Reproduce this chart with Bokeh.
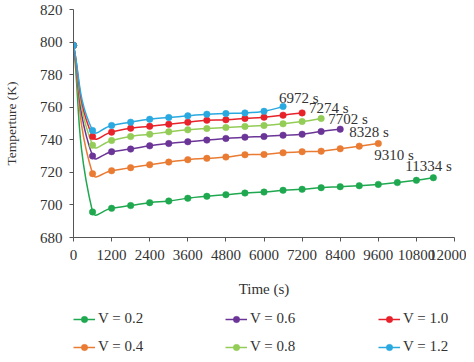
import math
from bokeh.plotting import figure
from bokeh.layouts import column
from bokeh.models import Range1d, FixedTicker, Legend, LegendItem, ColumnDataSource, Label
from bokeh.embed import file_html
from bokeh.resources import INLINE

# ---------------- data ----------------
time_s = [0, 600, 1200, 1800, 2400, 3000, 3600, 4200, 4800, 5400, 6000,
          6600, 7200, 7800, 8400, 9000, 9600, 10200, 10800, 11334]

v_labels = ["V = 0.2", "V = 0.4", "V = 0.6", "V = 0.8", "V = 1.0", "V = 1.2"]

temp_v02 = [798, 695.7, 697.9, 699.6, 701.4, 702.4, 704.1, 705.3, 706.3, 707.3,
            707.9, 709.0, 709.6, 710.6, 711.2, 711.8, 712.6, 713.7, 715.1, 716.7]
temp_v04 = [798, 719.2, 721.0, 722.9, 724.7, 726.3, 727.8, 728.6, 729.4, 730.8,
            731.0, 732.0, 732.7, 733.0, 734.5, 736.1, 737.7]
temp_v06 = [798, 730.0, 732.7, 734.3, 736.3, 737.7, 738.8, 739.8, 740.8, 741.6,
            742.0, 742.8, 743.4, 745.1, 746.5]
temp_v08 = [798, 736.7, 739.6, 742.0, 743.4, 744.9, 746.1, 746.9, 747.5, 748.2,
            748.8, 749.8, 751.2, 753.1]
temp_v10 = [798, 742.0, 744.7, 747.1, 748.3, 749.6, 750.8, 752.0, 752.3, 753.1,
            753.9, 755.1, 756.5]
temp_v12 = [798, 745.7, 748.8, 750.8, 752.6, 753.7, 754.7, 755.7, 756.1, 756.5,
            757.5, 760.4]

end_time_labels = ["11334 s", "9310 s", "8328 s", "7702 s", "7274 s", "6972 s"]

x_ticks = [0, 1200, 2400, 3600, 4800, 6000, 7200, 8400, 9600, 10800, 12000]
y_ticks = [680, 700, 720, 740, 760, 780, 800, 820]

# ---------------- styles ----------------
series = [temp_v02, temp_v04, temp_v06, temp_v08, temp_v10, temp_v12]
colors = ["#1fa84f", "#e97b32", "#6b3597", "#93cc57", "#e8222a", "#2aa9e0"]
label_dx = [-28, -4, 9, 7, 7, -4]
label_dy = [-12, 11, 3, 1, -5, -9]   # screen pixels, positive = down

FONT = "Liberation Serif"
TXT = "#333333"
AX = "#555555"

W = 466
H1, H2 = 302, 52
TOP, BOTTOM = 9, 65
p = figure(width=W, height=H1, output_backend="svg", toolbar_location=None,
           x_range=Range1d(0, 12000), y_range=Range1d(680, 820),
           min_border_left=64, min_border_right=12, min_border_top=TOP,
           min_border_bottom=BOTTOM)
p.outline_line_color = None
p.xgrid.visible = False
p.ygrid.visible = False
p.background_fill_color = "white"
p.border_fill_color = "white"

# scale (px per data unit) used only to weight the smoothing of the lines
SX = 382 / 12000
SY = (H1 - TOP - BOTTOM) / 140


def smooth_segments(xs, ys, k=0.5):
    P = [(x * SX, y * SY) for x, y in zip(xs, ys)]
    n = len(P)
    d = [math.hypot(P[i + 1][0] - P[i][0], P[i + 1][1] - P[i][1]) for i in range(n - 1)]
    T = []
    for i in range(n):
        if i == 0:
            a, b = P[0], P[1]
        elif i == n - 1:
            a, b = P[n - 2], P[n - 1]
        else:
            a, b = P[i - 1], P[i + 1]
        T.append((b[0] - a[0], b[1] - a[1]))
    out = dict(x0=[], y0=[], x1=[], y1=[], cx0=[], cy0=[], cx1=[], cy1=[])
    for i in range(n - 1):
        p0, p1 = P[i], P[i + 1]
        if i == 0:
            c0 = (p0[0] + (p1[0] - p0[0]) / 3, p0[1] + (p1[1] - p0[1]) / 3)
        else:
            f = d[i] / (d[i - 1] + d[i]) * k
            c0 = (p0[0] + T[i][0] * f, p0[1] + T[i][1] * f)
        if i + 1 == n - 1:
            c1 = (p1[0] - (p1[0] - p0[0]) / 3, p1[1] - (p1[1] - p0[1]) / 3)
        else:
            f = d[i] / (d[i] + d[i + 1]) * k
            c1 = (p1[0] - T[i + 1][0] * f, p1[1] - T[i + 1][1] * f)
        out["x0"].append(p0[0] / SX); out["y0"].append(p0[1] / SY)
        out["x1"].append(p1[0] / SX); out["y1"].append(p1[1] / SY)
        out["cx0"].append(c0[0] / SX); out["cy0"].append(c0[1] / SY)
        out["cx1"].append(c1[0] / SX); out["cy1"].append(c1[1] / SY)
    return out


# legend strip (its own small figure below the chart; its view lies far
# away from the data, so only the legend shows)
lg = figure(width=W, height=H2, output_backend="svg", toolbar_location=None,
            x_range=Range1d(0, 1), y_range=Range1d(0, 1),
            x_axis_type=None, y_axis_type=None,
            min_border_left=0, min_border_right=0, min_border_top=0,
            min_border_bottom=0)
lg.outline_line_color = None
lg.xgrid.visible = False
lg.ygrid.visible = False

items = []
for temps, col, lab, txt, dx, dy in zip(series, colors, v_labels, end_time_labels,
                                         label_dx, label_dy):
    ts = time_s[:len(temps)]
    seg = ColumnDataSource(smooth_segments(ts, temps))
    p.bezier(x0="x0", y0="y0", x1="x1", y1="y1", cx0="cx0", cy0="cy0",
             cx1="cx1", cy1="cy1", source=seg, line_color=col, line_width=1.5)
    p.scatter(ts, temps, size=6.5, fill_color=col, line_color=col, line_width=0.5)
    p.add_layout(Label(x=ts[-1], y=temps[-1], text=txt, x_offset=dx, y_offset=-dy,
                       text_font=FONT, text_font_size="15px", text_color=TXT,
                       text_baseline="middle", text_align="left"))
    lr = lg.line(ts, temps, line_color=col, line_width=1.5)
    ls = lg.scatter(ts, temps, size=6.5, fill_color=col, line_color=col, line_width=0.5)
    items.append(LegendItem(label=lab, renderers=[lr, ls]))

# axes
for ax in (p.xaxis, p.yaxis):
    ax.axis_line_color = AX
    ax.major_tick_line_color = AX
    ax.minor_tick_line_color = None
    ax.major_tick_in = 0
    ax.major_tick_out = 4
    ax.major_label_text_font = FONT
    ax.major_label_text_font_size = "15px"
    ax.major_label_text_color = TXT
    ax.axis_label_text_font = FONT
    ax.axis_label_text_font_style = "normal"
    ax.axis_label_text_color = TXT

p.xaxis.major_label_standoff = 8
p.yaxis.major_label_standoff = 7
p.xaxis.ticker = FixedTicker(ticks=x_ticks)
p.yaxis.ticker = FixedTicker(ticks=y_ticks)
p.xaxis.axis_label = "Time (s)"
p.xaxis.axis_label_text_font_size = "15px"
p.xaxis.axis_label_standoff = 18
p.yaxis.axis_label = "Temperture (K)"
p.yaxis.axis_label_text_font_size = "13.5px"
p.yaxis.axis_label_standoff = 18

# legend: three columns of two rows
col_groups = [[0, 1], [2, 3], [4, 5]]
col_x = [0, 152, 305]
for grp, cx in zip(col_groups, col_x):
    leg = Legend(items=[items[i] for i in grp], orientation="vertical",
                 location=(cx, -1), padding=0, margin=0, spacing=11,
                 glyph_width=22, glyph_height=16, label_height=16,
                 label_standoff=3, label_text_font=FONT, label_text_font_size="15px",
                 label_text_color=TXT, border_line_color=None,
                 background_fill_alpha=0)
    lg.add_layout(leg, "center")

open("out.html", "w").write(file_html(column(p, lg, spacing=0), INLINE))
